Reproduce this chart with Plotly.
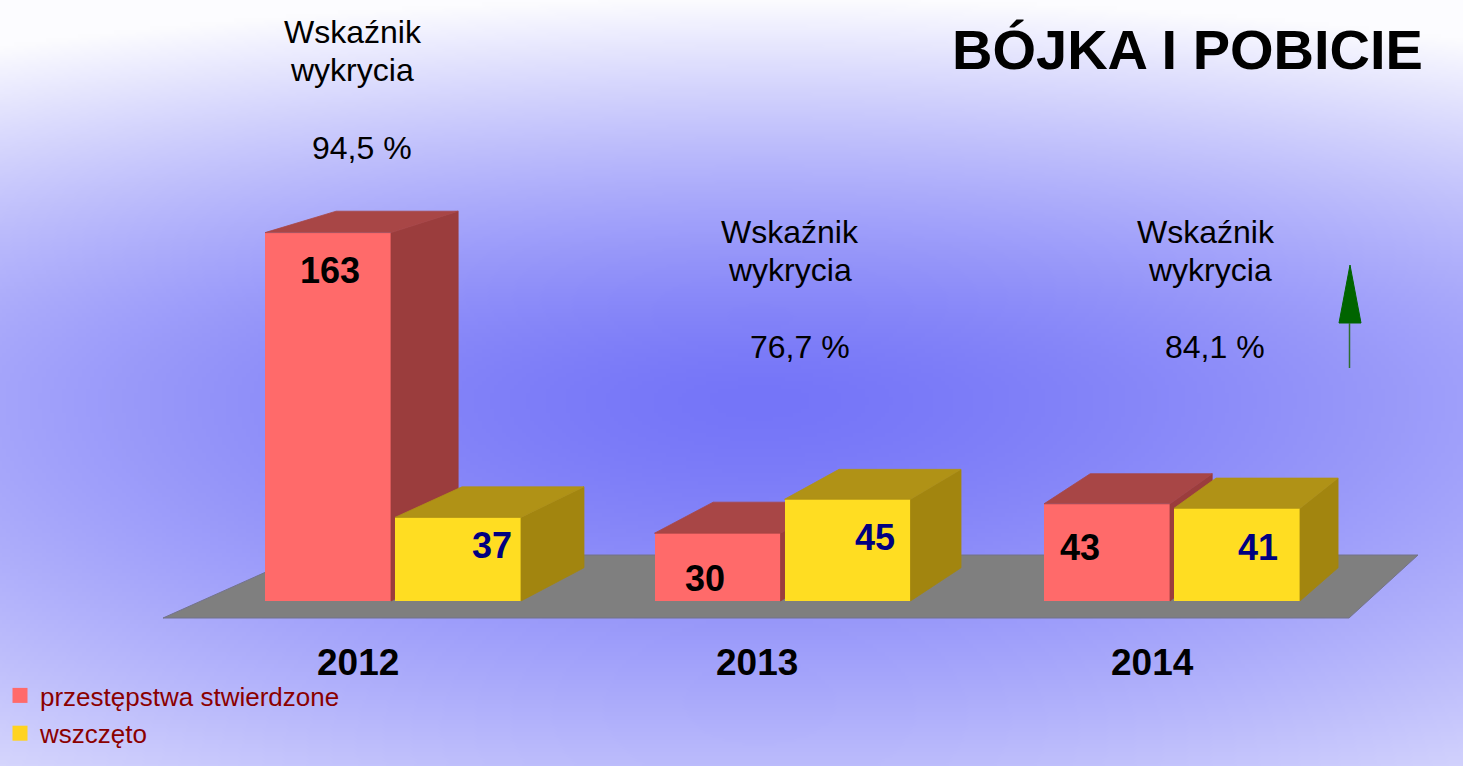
import base64
import struct
import zlib

import numpy as np
import plotly.graph_objects as go

# ---------------- data ----------------
years = ["2012", "2013", "2014"]
stwierdzone = [163, 30, 43]
wszczeto = [37, 45, 41]
wskaznik_values = ["94,5 %", "76,7 %", "84,1 %"]
series_names = ["przestępstwa stwierdzone", "wszczęto"]
indicator_lines = ["Wskaźnik", "wykrycia"]
title_text = "BÓJKA I POBICIE"

# ---------------- geometry / style ----------------
W, H = 1463, 766
Y0 = 601.0      # pixel row of value 0
S = 2.26        # pixels per unit


def val(py):
    return (Y0 - py) / S


def pp(py):
    return 1 - py / H


y_range = [val(H), val(0)]
x_range = [0, W]

group_left = [265, 654.5, 1044]
bar_w = 126
yellow_off = 130
VPX, VPV = 2489.0, val(-437)
K = 0.032

RED_FRONT, RED_TOP, RED_SIDE = "#FF6A6A", "#A84646", "#9B3D3D"
YEL_FRONT, YEL_TOP, YEL_SIDE = "#FFDD22", "#B09216", "#A2850F"
FLOOR = "#7F7F7F"


def back(x, v):
    return x + K * (VPX - x), v + K * (VPV - v)


# ---------------- background gradient image ----------------
def make_bg(w, h):
    xs = (np.arange(w) + 0.5) * W / w
    ys = (np.arange(h) + 0.5) * H / h
    X, Y = np.meshgrid(xs, ys)
    cx, cy = 760.0, 400.0
    rx = 1600.0
    ry = np.where(Y < cy, 400.0, 580.0)
    t = np.sqrt(((X - cx) / rx) ** 2 + ((Y - cy) / ry) ** 2)
    f = np.clip(t, 0, 1) ** 1.4
    c0 = np.array([117, 117, 248], float)
    c1 = np.array([252, 252, 255], float)
    img = c0[None, None, :] * (1 - f[..., None]) + c1[None, None, :] * f[..., None]
    img = np.clip(img, 0, 255).astype(np.uint8)
    raw = b"".join(b"\x00" + img[r].tobytes() for r in range(h))

    def chunk(tag, data):
        return (struct.pack(">I", len(data)) + tag + data +
                struct.pack(">I", zlib.crc32(tag + data) & 0xFFFFFFFF))

    png = (b"\x89PNG\r\n\x1a\n" +
           chunk(b"IHDR", struct.pack(">IIBBBBB", w, h, 8, 2, 0, 0, 0)) +
           chunk(b"IDAT", zlib.compress(raw, 9)) + chunk(b"IEND", b""))
    return "data:image/png;base64," + base64.b64encode(png).decode()


bg_src = make_bg(366, 192)

fig = go.Figure()

# floor (base subplot)
floor_pts = [(163, val(618)), (1349, val(618)), (1418, val(555)), (304, val(555))]
fig.add_trace(go.Scatter(
    x=[p[0] for p in floor_pts] + [floor_pts[0][0]],
    y=[p[1] for p in floor_pts] + [floor_pts[0][1]],
    fill="toself", fillcolor=FLOOR, mode="lines",
    line=dict(color="#73738C", width=1), hoverinfo="skip", showlegend=False,
    xaxis="x", yaxis="y"))


def add_series(values, offset, front, top, side, xa, ya):
    centers = [g + offset + bar_w / 2 for g in group_left]
    fig.add_trace(go.Bar(
        x=centers, y=values, width=bar_w, marker=dict(color=front, line=dict(width=0)),
        hoverinfo="skip", showlegend=False, xaxis=xa, yaxis=ya))
    for c, v in zip(centers, values):
        x0, x1 = c - bar_w / 2, c + bar_w / 2
        bx1v = back(x1, v)
        bx0v = back(x0, v)
        bx10 = back(x1, 0)
        sx = [x1, x1, bx1v[0], bx10[0], x1]
        sy = [0, v, bx1v[1], bx10[1], 0]
        fig.add_trace(go.Scatter(x=sx, y=sy, fill="toself", fillcolor=side, mode="lines",
                                 line=dict(color=side, width=0.8), hoverinfo="skip",
                                 showlegend=False, xaxis=xa, yaxis=ya))
        tx = [x0, x1, bx1v[0], bx0v[0], x0]
        ty = [v, v, bx1v[1], bx0v[1], v]
        fig.add_trace(go.Scatter(x=tx, y=ty, fill="toself", fillcolor=top, mode="lines",
                                 line=dict(color=top, width=0.8), hoverinfo="skip",
                                 showlegend=False, xaxis=xa, yaxis=ya))


add_series(stwierdzone, 0, RED_FRONT, RED_TOP, RED_SIDE, "x2", "y2")
add_series(wszczeto, yellow_off, YEL_FRONT, YEL_TOP, YEL_SIDE, "x3", "y3")

# legend entries
for name, col in zip(series_names, [RED_FRONT, "#FFD320"]):
    fig.add_trace(go.Scatter(x=[None], y=[None], mode="markers", name=name,
                             marker=dict(symbol="square", size=15, color=col),
                             legendgroup=name, xaxis="x", yaxis="y"))

annotations = []


def txt(x, y, text, size, color="#000000", xanchor="center"):
    return dict(x=x, y=pp(y), xref="x", yref="paper", text=text, showarrow=False,
                xanchor=xanchor, yanchor="middle",
                font=dict(size=size, color=color, family="Liberation Sans"))


# data labels
red_label_pos = [(330, 271), (705, 578), (1080, 547)]
yel_label_pos = [(492, 545), (875, 537), (1258, 547)]
for v, (lx, ly) in zip(stwierdzone, red_label_pos):
    annotations.append(txt(lx, ly, f"<b>{v}</b>", 36, "#000000"))
for v, (lx, ly) in zip(wszczeto, yel_label_pos):
    annotations.append(txt(lx, ly, f"<b>{v}</b>", 36, "#000080"))
# year labels
year_pos = [(358, 662), (757, 662), (1152, 662)]
for yr, (lx, ly) in zip(years, year_pos):
    annotations.append(txt(lx, ly, f"<b>{yr}</b>", 37))
# detection rate texts
ind_pos = [((353, 32), (352, 70), (362, 148)),
           ((790, 232), (790, 270), (800, 347)),
           ((1206, 232), (1210, 270), (1215, 347))]
for pct, (p1, p2, p3) in zip(wskaznik_values, ind_pos):
    for t_, (lx, ly) in zip(indicator_lines + [pct], (p1, p2, p3)):
        annotations.append(txt(lx, ly, t_, 32))
# title
annotations.append(txt(1425, 50, f"<b>{title_text}</b>", 56, xanchor="right"))

axis_common = dict(showgrid=False, zeroline=False, showticklabels=False, ticks="",
                   showline=False, fixedrange=True)

fig.update_layout(
    width=W, height=H, margin=dict(l=0, r=0, t=0, b=0),
    paper_bgcolor="#FFFFFF", plot_bgcolor="rgba(0,0,0,0)",
    xaxis=dict(range=x_range, domain=[0, 1], **axis_common),
    yaxis=dict(range=y_range, domain=[0, 1], **axis_common),
    xaxis2=dict(range=x_range, overlaying="x", **axis_common),
    yaxis2=dict(range=y_range, overlaying="y", **axis_common),
    xaxis3=dict(range=x_range, overlaying="x", **axis_common),
    yaxis3=dict(range=y_range, overlaying="y", **axis_common),
    images=[dict(source=bg_src, xref="paper", yref="paper", x=0, y=1, sizex=1, sizey=1,
                 xanchor="left", yanchor="top", sizing="stretch", layer="below")],
    shapes=[
        dict(type="path", xref="x", yref="paper",
             path=f"M 1339,{pp(323)} L 1361,{pp(323)} L 1350,{pp(265)} Z",
             fillcolor="#006400", line=dict(color="#006400", width=1)),
        dict(type="line", xref="x", yref="paper", x0=1349.5, x1=1349.5,
             y0=pp(323), y1=pp(368), line=dict(color="#2E6E2E", width=1.5)),
    ],
    annotations=annotations,
    showlegend=True,
    legend=dict(x=0, y=pp(672), xanchor="left", yanchor="top",
                bgcolor="rgba(0,0,0,0)", borderwidth=0, tracegroupgap=1,
                font=dict(size=26, color="#8B0000", family="Liberation Sans")),
    bargap=0,
)

fig.write_html("out.html", config={"displayModeBar": False},
               post_script="document.body.style.margin='0';document.body.style.overflow='hidden';")
